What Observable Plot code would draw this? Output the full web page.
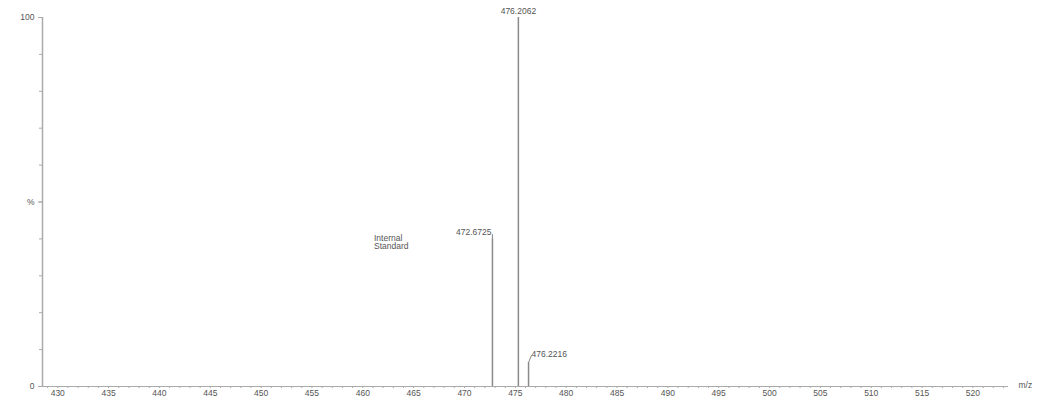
<!DOCTYPE html>
<html>
<head>
<meta charset="utf-8">
<script src="https://cdn.jsdelivr.net/npm/d3@7"></script>
<script src="https://cdn.jsdelivr.net/npm/@observablehq/plot@0.6"></script>
<style>
  html, body { margin: 0; padding: 0; background: #fff; }
  #chart svg { display: block; }
</style>
</head>
<body>
<div id="chart"></div>
<script>
// Peak positions (m/z as drawn), relative intensities (%), and their labels
const peakMz = [472.75, 475.3, 476.3];
const peakIntensity = [40, 100, 6.5];
const peakLabels = ["472.6725", "476.2062", "476.2216"];

// Axis ticks
const xTickValues = [430, 435, 440, 445, 450, 455, 460, 465, 470, 475, 480, 485, 490, 495, 500, 505, 510, 515, 520];
const xTickLabels = ["430", "435", "440", "445", "450", "455", "460", "465", "470", "475", "480", "485", "490", "495", "500", "505", "510", "515", "520"];
const yTickValues = [0, 50, 100];
const yTickLabels = ["0", "%", "100"];

const annotationText = ["Internal", "Standard"];
const xAxisTitle = "m/z";

const peaks = peakMz.map((mz, i) => ({ mz, intensity: peakIntensity[i], label: peakLabels[i] }));
const xMinor = d3.range(429, 524, 1);
const yMinor = d3.range(0, 101, 10);
const grey = "#8a8a8a";
const textGrey = "#555";

const plot = Plot.plot({
  width: 1043,
  height: 398,
  marginLeft: 42,
  marginRight: 35,
  marginTop: 17,
  marginBottom: 12,
  style: { fontFamily: "Liberation Sans, Arial, sans-serif", fontSize: "8px", color: textGrey, background: "#fff" },
  x: { domain: [428.5, 523.5], label: null },
  y: { domain: [0, 100], label: null },
  marks: [
    // axis lines
    Plot.ruleY([0], { stroke: "#aaa", strokeWidth: 1 }),
    Plot.ruleX([428.5], { y1: 0, y2: 100, stroke: "#aaa", strokeWidth: 1.5 }),
    // minor ticks
    Plot.axisX(xMinor, { tickSize: 2, tickFormat: () => "", stroke: "#aaa", tickPadding: 0, label: null }),
    Plot.axisY(yMinor, { tickSize: 3, tickFormat: () => "", stroke: "#aaa", label: null }),
    // labelled ticks
    Plot.axisX(xTickValues, {
      tickSize: 0, tickPadding: 3, label: null,
      tickFormat: (d) => xTickLabels[xTickValues.indexOf(d)],
      fontSize: 8.5, fill: textGrey, letterSpacing: "0.8px"
    }),
    Plot.axisY(yTickValues, {
      tickSize: 4, tickPadding: 4, stroke: "#aaa", label: null,
      tickFormat: (d) => yTickLabels[yTickValues.indexOf(d)],
      fontSize: 8.5, fill: textGrey, letterSpacing: "0.8px"
    }),
    // peaks
    Plot.ruleX(peaks, { x: "mz", y1: 0, y2: "intensity", stroke: grey, strokeWidth: 1.5 }),
    // peak labels
    Plot.text([peaks[1]], { x: "mz", y: "intensity", text: "label", dy: -6, fontSize: 8.5, fill: textGrey, letterSpacing: "0.8px" }),
    Plot.text([peaks[0]], { x: "mz", y: "intensity", text: "label", dx: -1, dy: -7, textAnchor: "end", fontSize: 8.5, fill: textGrey, letterSpacing: "0.8px" }),
    Plot.text([peaks[2]], { x: "mz", y: "intensity", text: "label", dx: 3, dy: -8, textAnchor: "start", fontSize: 8.5, fill: textGrey, letterSpacing: "0.8px" }),
    // connector hooks
    Plot.link([peaks[0]], { x1: "mz", y1: "intensity", x2: "mz", y2: (d) => d.intensity + 1.3, stroke: grey }),
    Plot.link([peaks[2]], { x1: "mz", y1: "intensity", x2: (d) => d.mz + 0.3, y2: (d) => d.intensity + 2, stroke: grey }),
    // annotation
    Plot.text([annotationText.join("\n")], { x: 461.1, y: 41, text: (d) => d, textAnchor: "start", lineAnchor: "top", lineHeight: 0.95, fontSize: 8.5, fill: textGrey, letterSpacing: "0.6px" }),
    // x-axis title
    Plot.text([xAxisTitle], { x: 523.5, y: 0, text: (d) => d, dx: 10, dy: -1, textAnchor: "start", fontSize: 8.5, fill: textGrey, letterSpacing: "0.8px" })
  ]
});
document.getElementById("chart").append(plot);
</script>
</body>
</html>
